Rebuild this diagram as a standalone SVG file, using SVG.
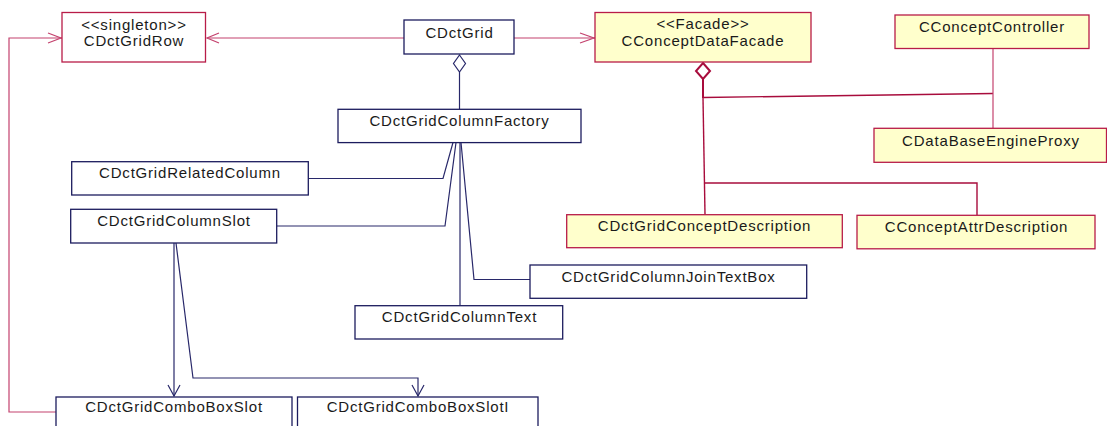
<svg xmlns="http://www.w3.org/2000/svg" width="1107" height="426" viewBox="0 0 1107 426">
<defs>
<style>
.bb{fill:#ffffff;stroke:#1c1c5e;stroke-width:1.3}
.rb{fill:#ffffcc;stroke:#b81c48;stroke-width:1.3}
.wr{fill:#ffffff;stroke:#b81c48;stroke-width:1.3}
text{font-family:"Liberation Sans",Arial,sans-serif;font-size:15px;letter-spacing:0.8px;fill:#1a1a1a;text-anchor:middle}
.bl{fill:none;stroke:#28286a;stroke-width:1.2}
.rl{fill:none;stroke:#c4426e;stroke-width:1.2}
.ag{fill:none;stroke:#a80c3c;stroke-width:2}
.al{fill:none;stroke:#a80c3c;stroke-width:1.4}
</style>
</defs>
<g id="connectors">
<!-- red navigations -->
<polyline class="rl" points="404,38 207,38"/>
<polyline class="rl" points="219,33 207,38 219,43"/>
<polyline class="rl" points="514,38 595,38"/>
<polyline class="rl" points="580,33 594,38 580,43"/>
<polyline class="rl" points="56,412 9,412 9,38 62,38"/>
<polyline class="rl" points="48,33 61,38 48,43"/>
<!-- facade aggregation -->
<polygon class="ag" points="703,63 710,71 703,79 696,71" fill="#ffffff"/>
<line class="ag" x1="703" y1="79" x2="703" y2="98"/>
<line class="al" x1="703" y1="97.5" x2="993" y2="93.5"/>
<line class="al" x1="703" y1="98" x2="705" y2="214.5"/>
<polyline class="al" points="705,183 977,183 977,215"/>
<line class="rl" x1="993" y1="48.5" x2="993" y2="128"/>
<!-- grid aggregation -->
<polygon class="bl" points="459.5,55 465.5,63.5 459.5,72 453.5,63.5" fill="#ffffff"/>
<line class="bl" x1="459.5" y1="72" x2="459.5" y2="109"/>
<!-- factory fan -->
<polyline class="bl" points="308,178.5 443,178.5 453,142.5"/>
<polyline class="bl" points="277,226 445,226 456,142.5"/>
<line class="bl" x1="460" y1="142.5" x2="460" y2="305.5"/>
<polyline class="bl" points="461,142.5 474,279.5 530,279.5"/>
<!-- column slot to combo boxes -->
<line class="bl" x1="174" y1="243" x2="174" y2="396"/>
<polyline class="bl" points="168,385 174,396 180,385"/>
<polyline class="bl" points="176,243 193,378 418,378 418,396"/>
<polyline class="bl" points="412,385 418,396 424,385"/>
</g>
<g id="CDctGridRow">
<rect class="wr" x="62" y="12.5" width="143.5" height="49.5"/>
<text x="134" y="29.5">&lt;&lt;singleton&gt;&gt;</text>
<text x="134" y="45.5">CDctGridRow</text>
</g>
<g id="CDctGrid">
<rect class="bb" x="404" y="20" width="110" height="34"/>
<text x="459.5" y="37.5">CDctGrid</text>
</g>
<g id="CConceptDataFacade">
<rect class="rb" x="595" y="12.5" width="216" height="49.5"/>
<text x="703" y="29">&lt;&lt;Facade&gt;&gt;</text>
<text x="703" y="45.5">CConceptDataFacade</text>
</g>
<g id="CConceptController">
<rect class="rb" x="895" y="15" width="194" height="33.5"/>
<text x="992" y="32.3">CConceptController</text>
</g>
<g id="CDataBaseEngineProxy">
<rect class="rb" x="874" y="128.3" width="232.5" height="34"/>
<text x="991" y="145.7">CDataBaseEngineProxy</text>
</g>
<g id="CDctGridColumnFactory">
<rect class="bb" x="338" y="109.3" width="243" height="33.3"/>
<text x="459.5" y="126">CDctGridColumnFactory</text>
</g>
<g id="CDctGridRelatedColumn">
<rect class="bb" x="71.7" y="161.7" width="236.6" height="33.3"/>
<text x="190" y="178.3">CDctGridRelatedColumn</text>
</g>
<g id="CDctGridColumnSlot">
<rect class="bb" x="70.7" y="209.3" width="206" height="33.7"/>
<text x="174" y="226">CDctGridColumnSlot</text>
</g>
<g id="CDctGridConceptDescription">
<rect class="rb" x="566.7" y="214.7" width="275.6" height="33"/>
<text x="704.5" y="231">CDctGridConceptDescription</text>
</g>
<g id="CConceptAttrDescription">
<rect class="rb" x="857" y="215.3" width="238" height="33.5"/>
<text x="976.5" y="231.5">CConceptAttrDescription</text>
</g>
<g id="CDctGridColumnJoinTextBox">
<rect class="bb" x="530" y="265" width="276.7" height="33.3"/>
<text x="668.5" y="281.5">CDctGridColumnJoinTextBox</text>
</g>
<g id="CDctGridColumnText">
<rect class="bb" x="355" y="305.7" width="207.7" height="33.3"/>
<text x="459.5" y="322">CDctGridColumnText</text>
</g>
<g id="CDctGridComboBoxSlot">
<rect class="bb" x="56" y="397" width="236" height="40"/>
<text x="174" y="412">CDctGridComboBoxSlot</text>
</g>
<g id="CDctGridComboBoxSlotI">
<rect class="bb" x="297.5" y="397" width="240.5" height="40"/>
<text x="418" y="412">CDctGridComboBoxSlotI</text>
</g>
</svg>
